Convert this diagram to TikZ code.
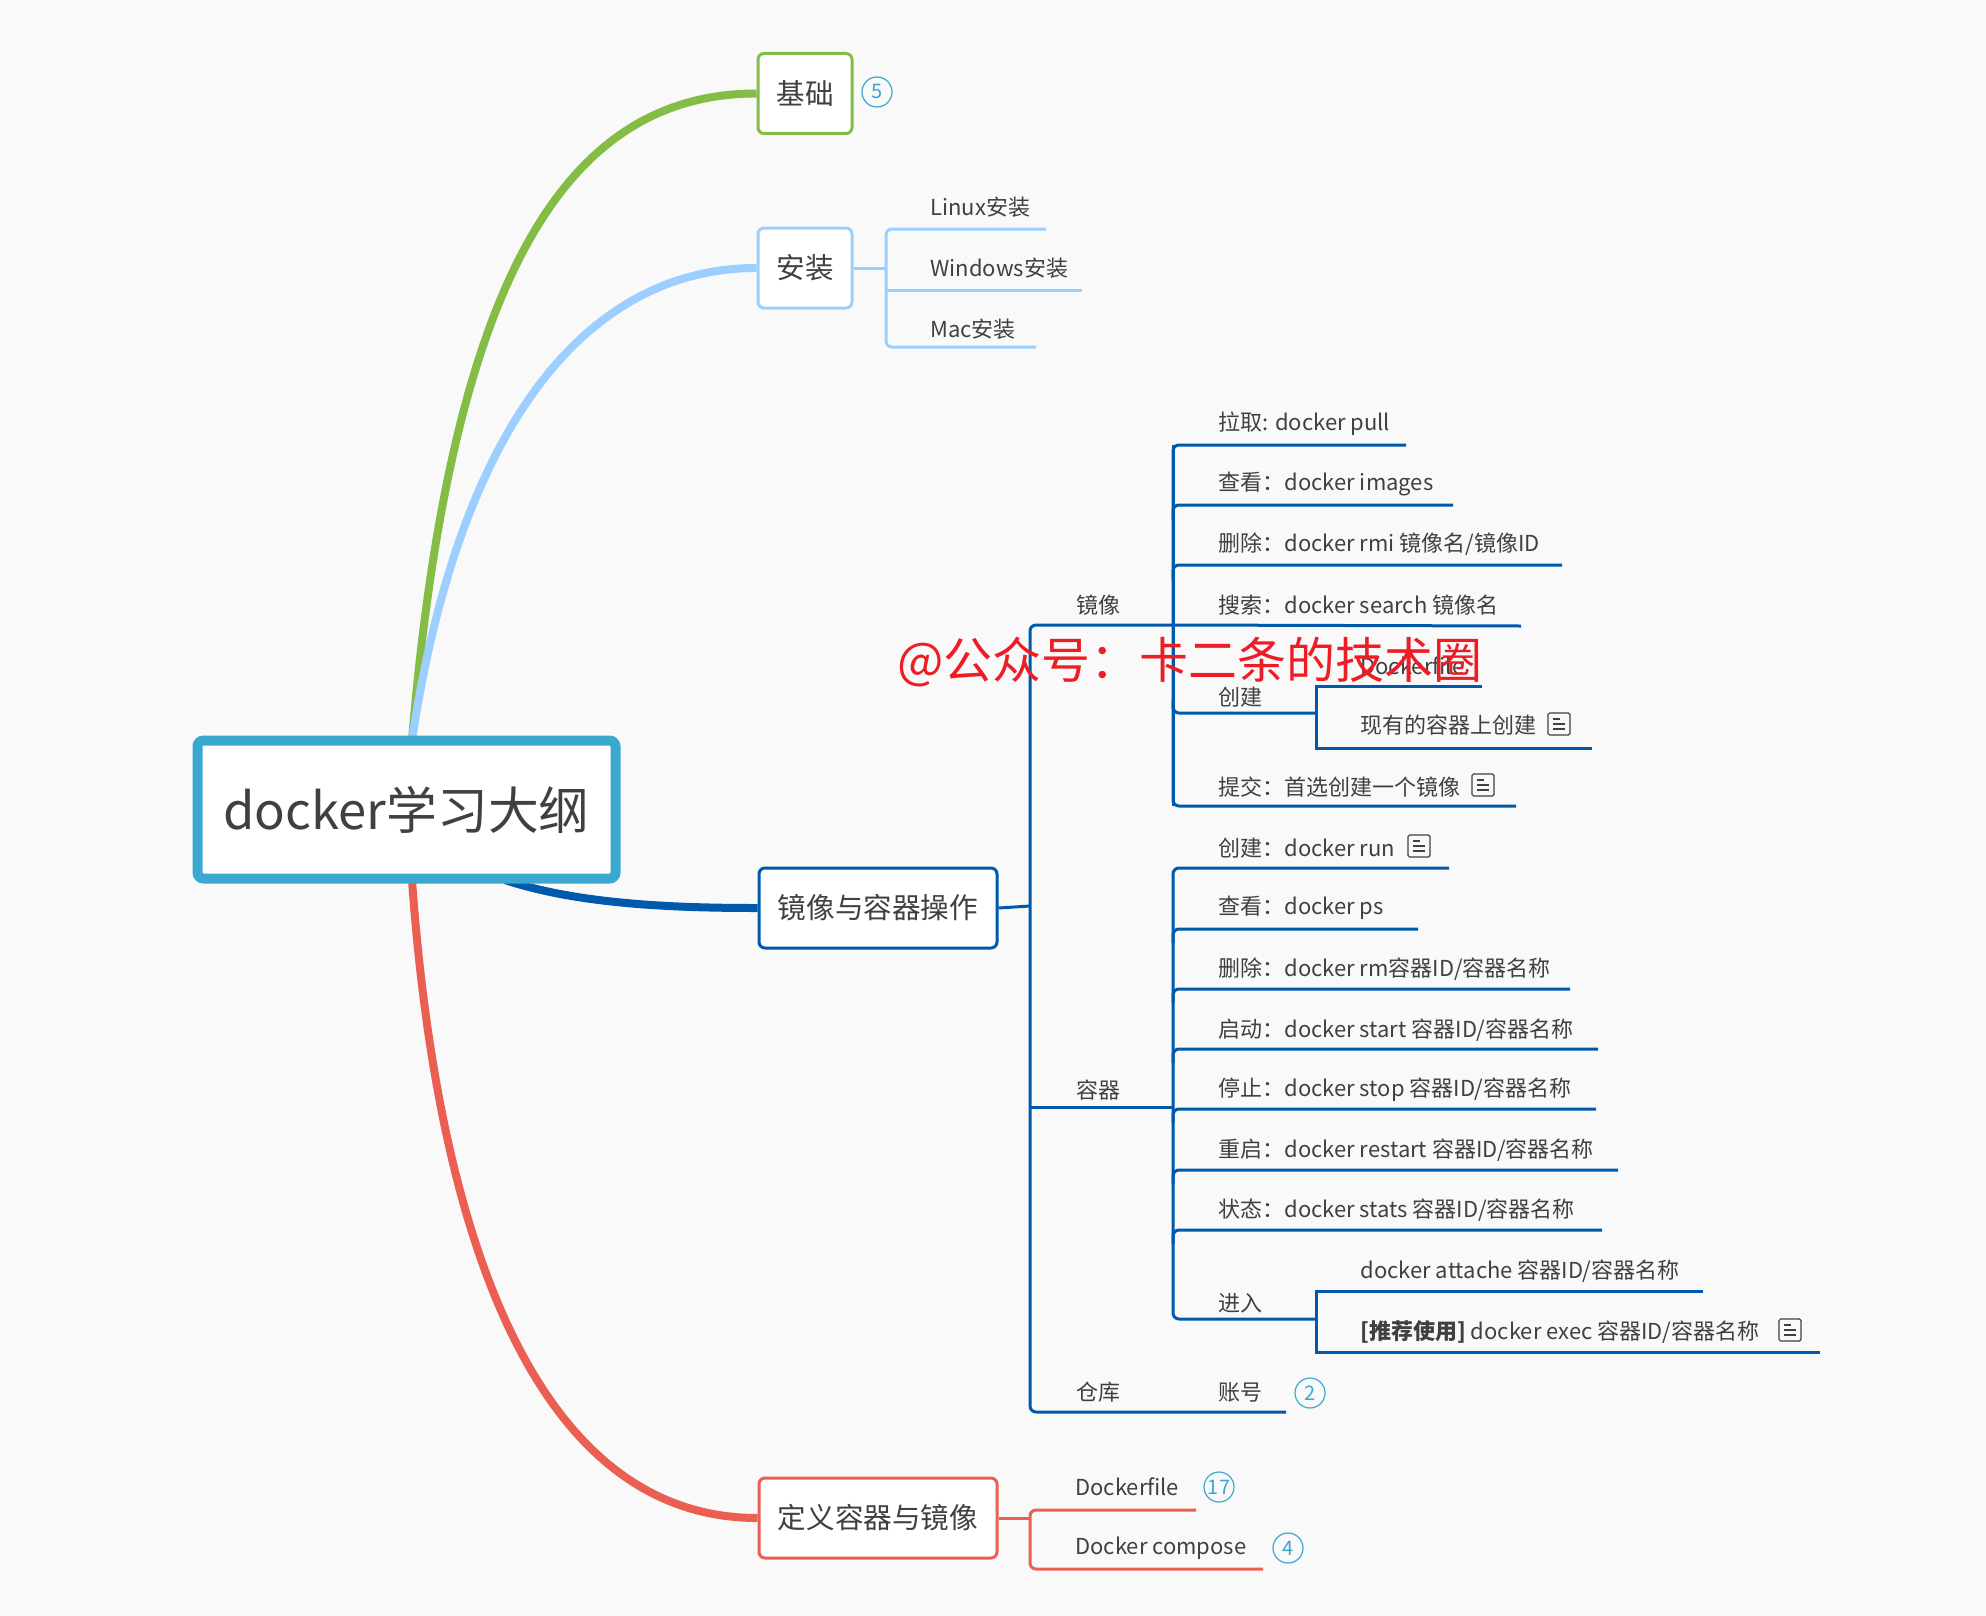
\documentclass[tikz,border=0pt]{standalone}
\usepackage{fontspec}
\setmainfont{Noto Sans CJK SC}
\usetikzlibrary{calc}
\definecolor{bgc}{HTML}{F9F9F9}
\definecolor{txt}{HTML}{404040}
\definecolor{rootc}{HTML}{3BA8D0}
\definecolor{greenc}{HTML}{84BD45}
\definecolor{bluec}{HTML}{9CCEFF}
\definecolor{navyc}{HTML}{005AAB}
\definecolor{redc}{HTML}{EB5F52}
\definecolor{wm}{HTML}{EE1C25}
\tikzset{
 x=0.5pt,y=-0.5pt,
 leaf/.style={font=\fontsize{11}{13}\selectfont,text=txt,anchor=west,inner sep=0pt},
 main/.style={font=\fontsize{14.3}{17}\selectfont,text=txt,draw,line width=1.5pt,fill=white,rounded corners=3pt,inner sep=0pt,minimum height=40pt},
 badge/.style={circle,draw=rootc,line width=.6pt,text=rootc,font=\fontsize{10}{12}\selectfont,minimum size=15pt,inner sep=0pt},
 conn/.style={line width=1.5pt,rounded corners=3pt},
}
\newcommand{\noteicon}[2]{%
 \draw[txt,line width=.6pt,rounded corners=.8pt] (#1-11,#2-11) rectangle (#1+11,#2+11);
 \draw[txt,line width=.6pt] (#1-6,#2-5) -- (#1+1,#2-5) (#1-6,#2) -- (#1+6,#2) (#1-6,#2+5) -- (#1+6,#2+5);}
\begin{document}
\begin{tikzpicture}
\useasboundingbox (0,0) rectangle (1986,1616);
\fill[bgc] (0,0) rectangle (1986,1616);
% hub nodes
\node[main,draw=greenc,minimum width=47pt] (jc) at (805,93.5) {基础};
\node[main,draw=bluec,minimum width=47pt] (az) at (805,268) {安装};
\node[main,draw=navyc,minimum width=119pt] (jx) at (878,908) {镜像与容器操作};
\node[main,draw=redc,minimum width=119pt] (dy) at (878,1518) {定义容器与镜像};
\coordinate (rt) at (412,740);
\coordinate (rb) at (412,880);
\coordinate (rbr) at (505,880);
% main curves
\draw[greenc,line width=4pt] (rt) .. controls (450,290) and (560,93.5) .. (jc.west);
\draw[bluec,line width=4pt] (rt) .. controls (460,420) and (590,268) .. (az.west);
\draw[navyc,line width=4pt] (rbr) .. controls (580,905) and (680,908) .. (jx.west);
\draw[redc,line width=4pt] (rb) .. controls (440,1270) and (550,1518) .. (dy.west);
\node[draw=rootc,line width=5pt,fill=white,rounded corners=3pt,minimum width=209pt,minimum height=69pt,inner sep=0pt,font=\fontsize{25.4}{30}\selectfont,text=txt] (root) at (406.5,809.5) {docker学习大纲};
% 基础
\node[badge] (b5) at (877,92) {5};
% 安装 branch
\coordinate (a1) at (1046,229);
\coordinate (a2) at (1082,290);
\coordinate (a3) at (1036,347);
\draw[conn,bluec] (az.east) -- (886,268);
\draw[conn,bluec] (a1) -- (886,229) -- (886,347) -- (a3);
\draw[conn,bluec] (886,290) -- (a2);
\node[leaf] (l1) at (930,207) {Linux安装};
\node[leaf] (l2) at (930,268) {Windows安装};
\node[leaf] (l3) at (930,329) {Mac安装};
% 镜像与容器操作 trunk
\coordinate (tk1) at (1521,626);
\coordinate (tk3) at (1286,1412);
\draw[conn,navyc] (jx.east) -- (1030,906);
\draw[conn,navyc] (1173,625) -- (1030,625) -- (1030,1412) -- (tk3);
% 镜像 children
\draw[conn,navyc] (1173,445) -- (1173,806);
\draw[conn,navyc] (1406,445) -- (1173,445) -- (1173,806) -- (1516,806);
\draw[conn,navyc] (1173,520) -- (1173,505) -- (1453,505);
\draw[conn,navyc] (1173,580) -- (1173,565) -- (1562,565);
\draw[navyc,line width=1.5pt] (1173,625) -- (tk1);
\draw[conn,navyc] (1173,700) -- (1173,713) -- (1315,713);
\draw[navyc,line width=1.5pt] (1482,686) -- (1316,686) -- (1316,748) -- (1592,748);
\node[leaf] at (1076,605) {镜像};
\node[leaf] at (1218,424) {拉取: docker pull};
\node[leaf] at (1218,484) {查看：docker images};
\node[leaf] at (1218,544) {删除：docker rmi 镜像名/镜像ID};
\node[leaf] at (1218,605) {搜索：docker search 镜像名};
\node[leaf] at (1218,697) {创建};
\node[leaf] at (1360,666) {Dockerfile};
\node[leaf] at (1360,725) {现有的容器上创建};
\node[leaf] at (1218,787) {提交：首选创建一个镜像};
\noteicon{1559}{724}
\noteicon{1483}{785}
% 容器 children
\coordinate (rq) at (1173,1107);
\draw[conn,navyc] (1030,1107) -- (rq);
\draw[conn,navyc] (1449,868) -- (1173,868) -- (1173,1319) -- (1316,1319);
\foreach \yy/\xe in {929/1418,989/1570,1049/1598,1109/1596,1170/1618,1230/1602}{
 \draw[conn,navyc] (1173,\yy+14) -- (1173,\yy) -- (\xe,\yy);}
\draw[navyc,line width=1.5pt] (1703,1291) -- (1316,1291) -- (1316,1352) -- (1820,1352);
\node[leaf] at (1076,1090) {容器};
\node[leaf] at (1218,848) {创建：docker run};
\node[leaf] at (1218,908) {查看：docker ps};
\node[leaf] at (1218,969) {删除：docker rm容器ID/容器名称};
\node[leaf] at (1218,1030) {启动：docker start 容器ID/容器名称};
\node[leaf] at (1218,1090) {停止：docker stop 容器ID/容器名称};
\node[leaf] at (1218,1150) {重启：docker restart 容器ID/容器名称};
\node[leaf] at (1218,1210) {状态：docker stats 容器ID/容器名称};
\node[leaf] at (1218,1303) {进入};
\node[leaf] at (1360,1271) {docker attache 容器ID/容器名称};
\node[leaf] at (1360,1332) {\textbf{[推荐使用]} docker exec 容器ID/容器名称};
\noteicon{1419}{846}
\noteicon{1790}{1330}
% 仓库
\node[leaf] at (1076,1392) {仓库};
\node[leaf] at (1218,1392) {账号};
\node[badge] (b2) at (1310,1393) {2};
% 定义容器与镜像
\coordinate (d1) at (1196,1510);
\coordinate (d2) at (1263,1569);
\draw[conn,redc] (dy.east) -- (1030,1518);
\draw[conn,redc] (d1) -- (1030,1510) -- (1030,1569) -- (d2);
\node[leaf] at (1075,1487) {Dockerfile};
\node[leaf] at (1075,1548) {Docker compose};
\node[badge] (b17) at (1219,1487) {17};
\node[badge] (b4) at (1288,1548) {4};
% watermark
\node[anchor=west,inner sep=0pt,text=wm,font=\fontsize{24.5}{30}\selectfont] (wmk) at (897,662) {@公众号：卡二条的技术圈};
\end{tikzpicture}
\end{document}
